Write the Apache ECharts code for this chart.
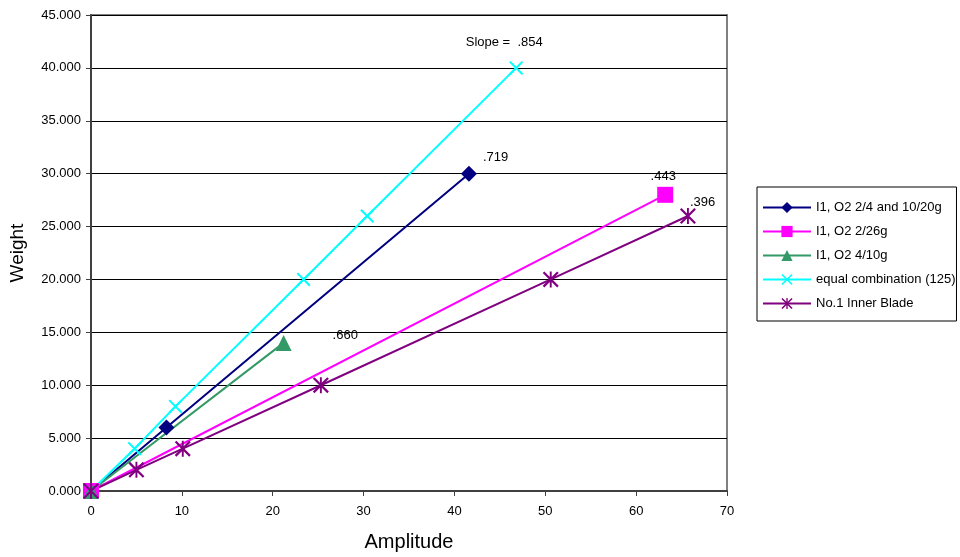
<!DOCTYPE html>
<html><head><meta charset="utf-8">
<script src="https://cdn.jsdelivr.net/npm/echarts@6/dist/echarts.min.js"></script>
<style>html,body{margin:0;padding:0;background:#fff}#c{width:960px;height:557px}</style>
</head><body><div id="c"></div>
<script>
var seriesNames = ['I1, O2 2/4 and 10/20g', 'I1, O2 2/26g', 'I1, O2 4/10g', 'equal combination (125)', 'No.1 Inner Blade'];
var s1Amp = [0, 8.3, 41.6];         var s1Wt = [0, 6, 30];
var s2Amp = [0, 63.2];              var s2Wt = [0, 28];
var s3Amp = [0, 21.2];              var s3Wt = [0, 14];
var s4Amp = [0, 4.8, 9.3, 23.4, 30.4, 46.8]; var s4Wt = [0, 4, 8, 20, 26, 40];
var s5Amp = [0, 5.0, 10.1, 25.3, 50.6, 65.7]; var s5Wt = [0, 2, 4, 10, 20, 26];
var slopeLabels = ['.719', '.443', '.660', 'Slope =  .854', '.396'];

var FONT = '"Liberation Sans", Arial, sans-serif';
var X_PATH = 'path://M0,1 L1,0 L10,9 L9,10 Z M9,0 L10,1 L1,10 L0,9 Z';
var STAR_PATH = 'path://M0,1 L1,0 L10,9 L9,10 Z M9,0 L10,1 L1,10 L0,9 Z M4.4,0 L5.6,0 L5.6,10 L4.4,10 Z';

function pts(xs, ys, label, lblPos, lblOffset) {
  return xs.map(function (x, i) {
    var d = { value: [x, ys[i]] };
    if (i === xs.length - 1) {
      d.label = { show: true, formatter: label, position: lblPos, offset: lblOffset,
        color: '#000', fontSize: 13, fontFamily: FONT };
    }
    return d;
  });
}

var colors = ['#000080', '#FF00FF', '#339966', '#00FFFF', '#800080'];
var symbols = ['diamond', 'rect', 'triangle', X_PATH, STAR_PATH];
var sizes = [16, 16, 16, 14, 16];
var datas = [
  pts(s1Amp, s1Wt, slopeLabels[0], 'right', [1, -16]),
  pts(s2Amp, s2Wt, slopeLabels[1], 'top', [-2, 1]),
  pts(s3Amp, s3Wt, slopeLabels[2], 'right', [36, -7]),
  pts(s4Amp, s4Wt, slopeLabels[3], 'top', [-12, -7]),
  pts(s5Amp, s5Wt, slopeLabels[4], 'right', [-11, -14])
];

var series = seriesNames.map(function (n, i) {
  return {
    name: n, type: 'line', data: datas[i], symbol: symbols[i], symbolSize: sizes[i],
    showAllSymbol: true,
    lineStyle: { color: colors[i], width: 2 },
    itemStyle: { color: colors[i], borderWidth: 0 },
    emphasis: { disabled: true }, animation: false
  };
});

var chart = echarts.init(document.getElementById('c'), null, { renderer: 'canvas' });
chart.setOption({
  animation: false,
  grid: { left: 91, right: 233, top: 15, bottom: 66, show: true, borderColor: '#808080', borderWidth: 2, backgroundColor: '#fff' },
  legend: {
    orient: 'vertical', left: 757, top: 187, data: seriesNames,
    itemWidth: 48, itemHeight: 14, itemGap: 11,
    padding: [14, 1, 11, 5], borderColor: '#000', borderWidth: 1,
    textStyle: { fontSize: 13, fontFamily: FONT, color: '#000' }
  },
  xAxis: {
    type: 'value', min: 0, max: 70, interval: 10,
    name: 'Amplitude', nameLocation: 'middle', nameGap: 41,
    nameTextStyle: { fontSize: 20, fontFamily: FONT, color: '#000' },
    axisLine: { lineStyle: { color: '#404040', width: 2 } },
    axisTick: { show: true, length: 5, lineStyle: { color: '#404040' } },
    axisLabel: { fontSize: 13, fontFamily: FONT, color: '#000', margin: 14 },
    splitLine: { show: false }
  },
  yAxis: {
    type: 'value', min: 0, max: 45, interval: 5,
    name: 'Weight', nameLocation: 'middle', nameGap: 64, nameRotate: 90,
    nameTextStyle: { fontSize: 19, fontFamily: FONT, color: '#000' },
    axisLine: { show: true, lineStyle: { color: '#404040', width: 2 } },
    axisTick: { show: true, length: 5, lineStyle: { color: '#404040' } },
    axisLabel: { fontSize: 13, fontFamily: FONT, color: '#000', margin: 10,
      formatter: function (v) { return v.toFixed(3); } },
    splitLine: { show: true, lineStyle: { color: '#000', width: 1 } }
  },
  series: series
});
</script></body></html>
